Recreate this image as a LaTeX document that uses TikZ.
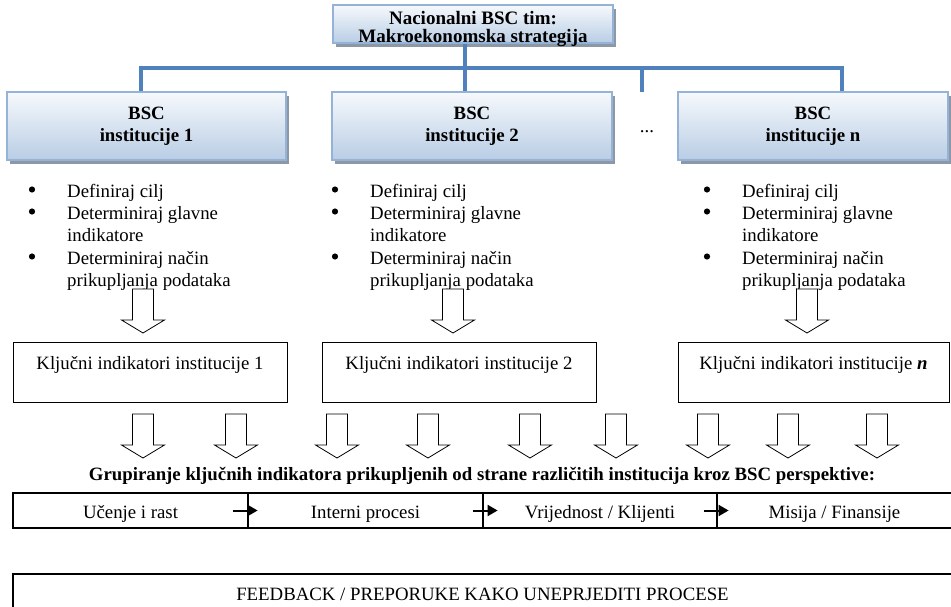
\documentclass[tikz,border=0pt]{standalone}
\usepackage{fontspec}
\setmainfont{Liberation Serif}
\usetikzlibrary{arrows.meta}
\definecolor{boxtop}{HTML}{F6F9FC}
\definecolor{boxbot}{HTML}{B9CDE5}
\definecolor{boxline}{HTML}{95B3D7}
\definecolor{connblue}{HTML}{4F81BD}
\definecolor{shadowgray}{HTML}{8D98A6}
\newcommand{\tfont}{\fontsize{18.8}{22}\selectfont}
\newcommand{\arrowpath}[2]{(#1-10.5,#2) -- (#1+10.5,#2) -- (#1+10.5,#2+31) -- (#1+21.5,#2+31)
     -- (#1,#2+44) -- (#1-21.5,#2+31) -- (#1-10.5,#2+31) -- cycle}
\newcommand{\harrow}[2]{%
  \fill[white] \arrowpath{#1}{#2};
  \draw[black,line width=.8pt,line join=miter] \arrowpath{#1}{#2};}
\tikzset{
  bsc/.style={draw=boxline,line width=1.4pt,top color=boxtop,bottom color=boxbot,inner sep=0pt,align=center,
    font=\tfont\bfseries},
  shadowbox/.style={fill=shadowgray,draw=none},
  keybox/.style={draw,line width=1pt,inner sep=0pt,minimum height=60pt,text height=27pt,text depth=33pt,font=\tfont},
  persp/.style={draw,line width=1.2pt,inner sep=0pt,minimum height=35pt,text height=25pt,text depth=10pt,font=\tfont},
  item/.style={anchor=base west,inner sep=0pt,font=\tfont},
  plain/.style={anchor=base,inner sep=0pt,font=\tfont},
  conn/.style={draw=connblue,line width=4pt},
  smallarrow/.style={line width=2pt,-{Triangle[length=10pt,width=11pt]}}
}
\begin{document}
\begin{tikzpicture}[x=1pt,y=-1pt]
\clip (0,0) rectangle (951,607);
\fill[white] (0,0) rectangle (951,607);

% connector coordinates
\coordinate (hl) at (141,68);
\coordinate (hc) at (465,68);
\coordinate (hd) at (642,68);
\coordinate (hr) at (842,68);
\coordinate (dotsend) at (642,92);

% shadows
\fill[shadowbox] (336,9) rectangle (616,47);
\fill[shadowbox] (10,96) rectangle (289,164);
\fill[shadowbox] (335,96) rectangle (615,164);
\fill[shadowbox] (681,96) rectangle (951,164);

% top box
\node[bsc,minimum width=280pt,minimum height=38pt] (top) at (473,24) {};
\node[plain,font=\fontsize{19}{18}\selectfont\bfseries] (t1) at (473,25) {Nacionalni BSC tim:};
\node[plain,font=\fontsize{19}{18}\selectfont\bfseries] (t2) at (473,43) {Makroekonomska strategija};

% BSC boxes
\node[bsc,minimum width=279pt,minimum height=68pt] (b1) at (146.5,126) {BSC\\institucije 1};
\node[bsc,minimum width=280pt,minimum height=68pt] (b2) at (472,126) {BSC\\institucije 2};
\node[bsc,minimum width=270pt,minimum height=68pt] (bn) at (813,126) {BSC\\institucije n};
\node[plain] (dots) at (647,133) {...};

% blue tree connectors
\draw[conn] (hc |- top.south) -- (hc |- b2.north);
\draw[conn,line cap=rect] (hl) -- (hr);
\draw[conn] (hl) -- (hl |- b1.north);
\draw[conn] (hd) -- (dotsend);
\draw[conn] (hr) -- (hr |- bn.north);

% bullet lists
\foreach \bx/\tx/\nm in {32/67/a,335/370/b,707/742/c}{
  \fill (\bx,189.5) circle (3.1);
  \fill (\bx,211.5) circle (3.1);
  \fill (\bx,256.5) circle (3.1);
  \node[item] (\nm1) at (\tx,197) {Definiraj cilj};
  \node[item] (\nm2) at (\tx,219) {Determiniraj glavne};
  \node[item] (\nm3) at (\tx,241) {indikatore};
  \node[item] (\nm4) at (\tx,264) {Determiniraj način};
  \node[item] (\nm5) at (\tx,286) {prikupljanja podataka};
}

% key indicator boxes
\node[keybox,minimum width=274pt] (k1) at (150,372) {Ključni indikatori institucije 1};
\node[keybox,minimum width=274pt] (k2) at (459,372) {Ključni indikatori institucije 2};
\node[keybox,minimum width=271pt] (kn) at (813.5,372) {Ključni indikatori institucije \textbf{\textit{n}}};

% hollow arrows into key boxes
\harrow{143}{289}
\harrow{453}{289}
\harrow{807}{289}
% hollow arrows down to grouping
\foreach \ax in {143,236,337,428,530,616,708,788,877}{
  \harrow{\ax}{414}
}

\node[plain,font=\tfont\bfseries] (grp) at (482,480) {Grupiranje ključnih indikatora prikupljenih od strane različitih institucija kroz BSC perspektive:};

% perspectives row
\node[persp,minimum width=235pt] (p1) at (130.5,510.5) {Učenje i rast};
\node[persp,minimum width=235pt] (p2) at (365.5,510.5) {Interni procesi};
\node[persp,minimum width=234pt] (p3) at (600,510.5) {Vrijednost / Klijenti};
\node[persp,minimum width=235pt] (p4) at (834.5,510.5) {Misija / Finansije};
\draw[smallarrow] ([xshift=-16pt]p1.east) -- ([xshift=9pt]p1.east);
\draw[smallarrow] ([xshift=-11pt]p2.east) -- ([xshift=14pt]p2.east);
\draw[smallarrow] ([xshift=-14pt]p3.east) -- ([xshift=11pt]p3.east);

% feedback box
\node[draw,line width=1.2pt,inner sep=0pt,minimum width=939pt,minimum height=41pt,text height=26pt,text depth=15pt,font=\tfont] (fb) at (482.5,594.5) {FEEDBACK / PREPORUKE KAKO UNEPRJEDITI PROCESE};
\end{tikzpicture}
\end{document}
